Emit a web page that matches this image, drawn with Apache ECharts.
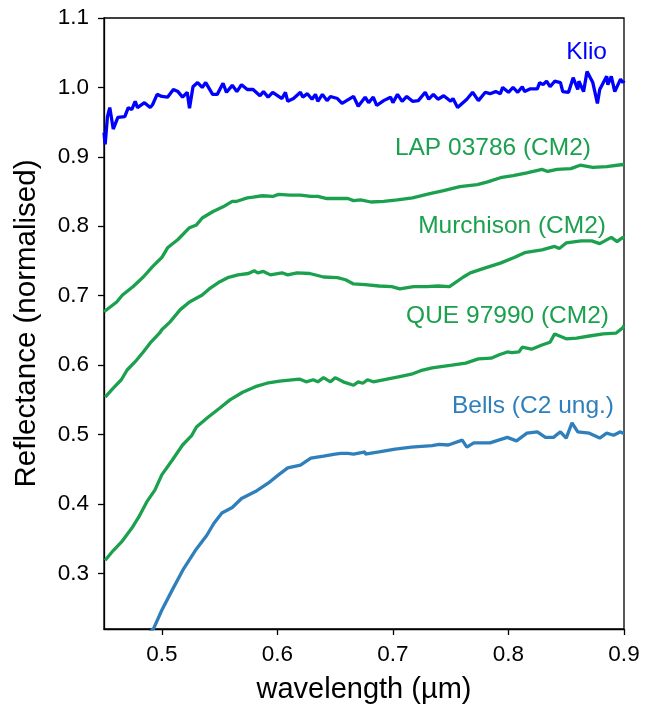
<!DOCTYPE html>
<html><head><meta charset="utf-8">
<script src="https://cdn.jsdelivr.net/npm/echarts@6/dist/echarts.min.js"></script>
<style>html,body{margin:0;padding:0;background:#fff}#c{width:652px;height:709px}</style>
</head><body><div id="c"></div>
<script>
const klioWl = [0.450,0.451,0.453,0.455,0.458,0.462,0.468,0.471,0.474,0.477,0.479,0.485,0.490,0.492,0.496,0.500,0.505,0.510,0.514,0.518,0.522,0.524,0.527,0.531,0.535,0.538,0.544,0.548,0.553,0.556,0.561,0.565,0.569,0.574,0.579,0.585,0.588,0.592,0.596,0.604,0.607,0.609,0.614,0.620,0.622,0.626,0.630,0.633,0.635,0.639,0.643,0.646,0.652,0.656,0.666,0.670,0.676,0.679,0.683,0.686,0.692,0.698,0.700,0.704,0.708,0.712,0.717,0.722,0.728,0.731,0.735,0.739,0.744,0.750,0.752,0.756,0.764,0.769,0.774,0.780,0.784,0.789,0.793,0.795,0.800,0.804,0.808,0.812,0.814,0.819,0.825,0.827,0.830,0.833,0.836,0.840,0.845,0.847,0.852,0.856,0.860,0.861,0.865,0.868,0.873,0.877,0.879,0.885,0.886,0.889,0.892,0.897,0.899,0.900];
const klioR = [0.935,0.918,0.958,0.971,0.940,0.957,0.958,0.971,0.968,0.980,0.971,0.978,0.971,0.975,0.990,0.987,0.986,0.997,0.994,0.986,0.993,0.970,1.001,1.007,1.000,1.007,0.990,0.990,1.006,0.993,1.003,0.994,1.004,0.997,0.997,0.988,0.994,0.986,0.993,0.984,0.993,0.980,0.984,0.993,0.986,0.991,0.983,0.990,0.980,0.990,0.981,0.987,0.984,0.977,0.987,0.973,0.986,0.978,0.986,0.974,0.981,0.986,0.978,0.990,0.980,0.987,0.980,0.981,0.993,0.983,0.990,0.983,0.988,0.980,0.984,0.971,0.983,0.993,0.981,0.993,0.991,0.994,0.991,1.000,0.993,1.000,0.993,1.001,0.994,0.998,0.998,1.007,1.004,1.009,1.001,1.009,1.007,0.994,0.993,1.014,0.997,1.009,0.994,1.023,1.007,0.977,0.997,1.016,1.004,1.016,0.994,1.012,1.007,1.010];

const lapWl = [0.450,0.461,0.466,0.475,0.484,0.492,0.500,0.505,0.514,0.524,0.530,0.535,0.544,0.553,0.561,0.565,0.574,0.579,0.587,0.596,0.601,0.611,0.620,0.629,0.635,0.643,0.652,0.661,0.666,0.672,0.681,0.692,0.704,0.717,0.732,0.743,0.758,0.773,0.782,0.793,0.804,0.816,0.829,0.834,0.842,0.854,0.862,0.873,0.885,0.899,0.900];
const lapR = [0.677,0.691,0.701,0.713,0.727,0.742,0.755,0.769,0.781,0.798,0.802,0.812,0.821,0.828,0.836,0.836,0.841,0.842,0.844,0.843,0.846,0.845,0.845,0.843,0.843,0.840,0.840,0.840,0.837,0.838,0.835,0.836,0.838,0.841,0.847,0.851,0.857,0.860,0.864,0.870,0.873,0.877,0.882,0.879,0.882,0.883,0.888,0.885,0.886,0.889,0.888];

const murWl = [0.451,0.458,0.465,0.470,0.477,0.484,0.490,0.498,0.500,0.507,0.516,0.524,0.535,0.542,0.549,0.557,0.566,0.575,0.580,0.583,0.588,0.594,0.604,0.609,0.617,0.628,0.640,0.652,0.659,0.666,0.676,0.688,0.699,0.706,0.718,0.729,0.739,0.749,0.761,0.767,0.778,0.793,0.805,0.814,0.829,0.840,0.844,0.850,0.863,0.872,0.879,0.889,0.894,0.899,0.900];
const murR = [0.554,0.567,0.579,0.593,0.605,0.619,0.632,0.646,0.651,0.662,0.680,0.691,0.701,0.711,0.719,0.726,0.730,0.732,0.736,0.733,0.735,0.730,0.733,0.730,0.733,0.732,0.727,0.726,0.723,0.717,0.716,0.714,0.713,0.710,0.713,0.713,0.714,0.713,0.727,0.733,0.739,0.747,0.755,0.762,0.766,0.771,0.768,0.776,0.779,0.779,0.775,0.784,0.778,0.784,0.782];

const queWl = [0.451,0.458,0.465,0.474,0.480,0.487,0.494,0.500,0.509,0.518,0.526,0.530,0.540,0.550,0.559,0.570,0.581,0.591,0.602,0.619,0.625,0.631,0.635,0.640,0.646,0.650,0.657,0.666,0.670,0.674,0.678,0.683,0.695,0.707,0.716,0.724,0.734,0.751,0.763,0.774,0.785,0.792,0.799,0.803,0.809,0.812,0.820,0.829,0.836,0.840,0.850,0.859,0.870,0.882,0.893,0.899,0.900];
const queR = [0.319,0.333,0.345,0.365,0.381,0.403,0.420,0.442,0.463,0.485,0.499,0.511,0.525,0.538,0.550,0.561,0.569,0.574,0.577,0.580,0.576,0.579,0.576,0.582,0.576,0.582,0.576,0.571,0.576,0.574,0.579,0.576,0.580,0.584,0.587,0.592,0.596,0.600,0.603,0.609,0.610,0.615,0.619,0.618,0.619,0.626,0.623,0.629,0.633,0.645,0.638,0.639,0.642,0.645,0.646,0.654,0.657];

const belWl = [0.488,0.493,0.500,0.509,0.519,0.529,0.539,0.545,0.552,0.561,0.569,0.581,0.592,0.601,0.609,0.620,0.629,0.640,0.650,0.655,0.661,0.666,0.676,0.676,0.688,0.702,0.716,0.734,0.740,0.748,0.760,0.764,0.770,0.784,0.799,0.807,0.816,0.825,0.832,0.839,0.845,0.850,0.855,0.860,0.870,0.879,0.885,0.891,0.897,0.899,0.900];
const belR = [0.212,0.221,0.247,0.276,0.307,0.333,0.355,0.372,0.387,0.395,0.408,0.418,0.430,0.442,0.452,0.456,0.466,0.469,0.472,0.473,0.473,0.472,0.475,0.472,0.475,0.479,0.482,0.484,0.486,0.485,0.492,0.482,0.488,0.488,0.496,0.491,0.502,0.504,0.496,0.496,0.504,0.495,0.517,0.504,0.502,0.495,0.502,0.499,0.504,0.502,0.502];

const xTicks = [0.5,0.6,0.7,0.8,0.9];
const yTicks = [0.3,0.4,0.5,0.6,0.7,0.8,0.9,1.0,1.1];

const seriesNames = ['Klio','LAP 03786 (CM2)','Murchison (CM2)','QUE 97990 (CM2)','Bells (C2 ung.)'];
const seriesColors = ['#0000ff','#1ba04e','#1ba04e','#1ba04e','#2e7fbb'];
const wls = [klioWl, lapWl, murWl, queWl, belWl];
const refl = [klioR, lapR, murR, queR, belR];

const FONT = 'Liberation Sans, Arial, sans-serif';
const chart = echarts.init(document.getElementById('c'), null, {renderer:'canvas'});
const zip = (a,b)=>a.map((v,i)=>[v,b[i]]);

const labelPos = [[607,52],[591,148],[606,226],[609,316],[614,406]];

chart.setOption({
  animation:false,
  backgroundColor:'#fff',
  grid:{left:104,right:28,top:18,bottom:79,show:true,borderColor:'#000',borderWidth:1.3,backgroundColor:'transparent'},
  xAxis:{type:'value',min:0.45,max:0.9,
    name:'wavelength (µm)',nameLocation:'middle',nameGap:46,
    nameTextStyle:{fontFamily:FONT,fontSize:29,color:'#000'},
    axisLine:{show:true,lineStyle:{color:'#000',width:1.3}},
    axisTick:{show:true,length:6,lineStyle:{color:'#000',width:1.3},customValues:xTicks},
    axisLabel:{fontFamily:FONT,fontSize:22.5,color:'#000',margin:14,customValues:xTicks,formatter:v=>v.toFixed(1)},
    splitLine:{show:false}},
  yAxis:{type:'value',min:0.22,max:1.1,
    name:'Reflectance (normalised)',nameLocation:'middle',nameGap:62,
    nameTextStyle:{fontFamily:FONT,fontSize:29.5,color:'#000'},
    axisLine:{show:true,lineStyle:{color:'#000',width:1.3}},
    axisTick:{show:true,length:6,lineStyle:{color:'#000',width:1.3},customValues:yTicks},
    axisLabel:{fontFamily:FONT,fontSize:22.5,color:'#000',margin:15,customValues:yTicks,formatter:v=>v.toFixed(1)},
    splitLine:{show:false}},
  series: seriesNames.map((n,i)=>({
    name:n,type:'line',data:zip(wls[i],refl[i]),showSymbol:false,symbol:'none',
    clip:true,lineStyle:{color:seriesColors[i],width:3.3},z:i===0?5:3
  })),
  graphic: seriesNames.map((n,i)=>({
    type:'text',x:labelPos[i][0],y:labelPos[i][1],
    style:{text:n,fill:seriesColors[i],font:'24.5px '+FONT,align:'right',verticalAlign:'middle'}
  }))
});
</script></body></html>
